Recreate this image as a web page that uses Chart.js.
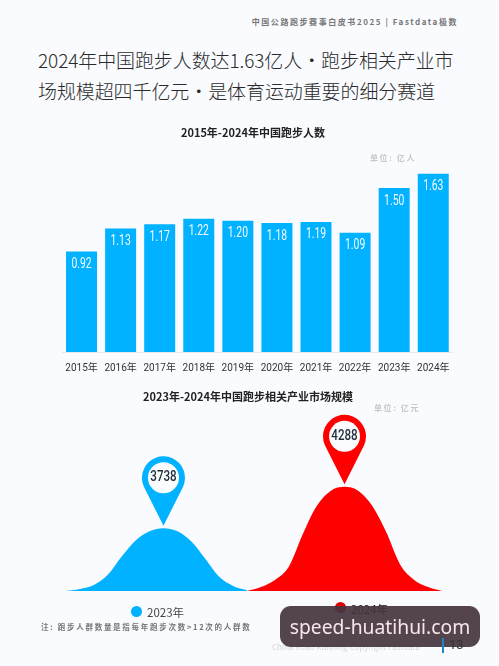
<!DOCTYPE html>
<html lang="zh"><head><meta charset="utf-8">
<script src="https://cdn.jsdelivr.net/npm/chart.js@4"></script>
<style>
html,body{margin:0;padding:0;background:#f9fbfe;}
#page{position:relative;width:499px;height:666px;overflow:hidden;font-family:"Noto Sans CJK SC","Noto Sans",sans-serif;background:#f9fbfe;}
#page>*{position:absolute;white-space:nowrap;}
canvas{position:absolute;left:0;}
#hdr{right:41px;top:16px;font-size:8px;font-weight:700;color:#777;letter-spacing:1.56px;line-height:12px;}
#t1,#t2{left:38px;font-size:19px;color:#2a2a2a;font-weight:300;line-height:26px;letter-spacing:-.1px;}
#t1{top:47px;}#t2{top:78px;}
.sep{display:inline-block;width:19px;text-align:center;}
.unit{font-size:8px;font-weight:700;color:#c8c8c8;line-height:10px;letter-spacing:1.6px;}
.lg{font-size:11.5px;color:#444;line-height:14px;}
.dot{width:11px;height:11px;border-radius:50%;}
#note{left:41px;top:621px;font-size:7.5px;font-weight:700;color:#777;letter-spacing:1.72px;line-height:12px;}
#copy{left:272px;top:641px;font-size:8px;color:#d5d7da;line-height:11px;}
#bar{left:442px;top:638px;width:2px;height:15px;background:#1a85c8;z-index:2;}
#pn{left:449px;top:637px;font-size:13px;color:#333;line-height:15px;font-family:Roboto;z-index:2;}
#wm{left:280px;top:606px;width:200px;height:41px;border-radius:11px;background:rgba(68,52,62,.92);color:#fbe6ee;font-family:"Noto Sans";font-size:19.3px;line-height:41px;text-align:center;}
</style></head><body>
<div id="page">
<div id="hdr">中国公路跑步赛事白皮书2025 | Fastdata极数</div>
<div id="t1">2024年中国跑步人数达1.63亿人<span class="sep">·</span>跑步相关产业市</div>
<div id="t2">场规模超四千亿元<span class="sep">·</span>是体育运动重要的细分赛道</div>
<canvas id="c1" style="top:120px" width="499" height="270"></canvas>
<canvas id="c2" style="top:385px" width="499" height="235"></canvas>
<div class="unit" style="left:370px;top:153px">单位: 亿人</div>
<div class="unit" style="left:374px;top:403px">单位: 亿元</div>
<div class="dot" style="left:131px;top:606px;background:#00b2ff"></div>
<div class="lg" style="left:147px;top:605px">2023年</div>
<div class="dot" style="left:335px;top:602px;background:#e00000"></div>
<div class="lg" style="left:351px;top:602px;color:#111">2024年</div>
<div id="note">注: 跑步人群数量是指每年跑步次数&gt;12次的人群数</div>
<div id="copy">China Road Running Copyright Fastdata</div>
<div id="bar"></div><div id="pn">13</div>
<div id="wm">speed-huatihui.com</div>
</div>
<script>
const years = ['2015年','2016年','2017年','2018年','2019年','2020年','2021年','2022年','2023年','2024年'];
const runners = [0.92,1.13,1.17,1.22,1.20,1.18,1.19,1.09,1.50,1.63];
const curveSteps = ['','','','','','','','','','','','','','','','','','','','','','','','','','','',''];
const curve2023 = [0,2,6,16,34,50,59,62,59,49,32,14,5,0.7,null,null,null,null,null,null,null,null,null,null,null,null,null,null];
const curve2024 = [null,null,null,null,null,null,null,null,null,null,null,null,null,0,4,11,24,56,84,99,103,99,84,58,26,11,4,0];
const marketSize = {2023:3738, 2024:4288};
const BLUE='#00b2ff', RED='#ff0000';
const CJK='"Noto Sans CJK SC"';

const shiftTitle=dx=>({id:'shiftTitle',afterLayout(ch){ch.titleBlock.left+=dx;ch.titleBlock.right+=dx;}});

const barLabels={id:'barLabels',afterDatasetsDraw(ch){
  const {ctx}=ch, m=ch.getDatasetMeta(0);
  ctx.save();ctx.fillStyle='#f7fcff';ctx.font='14px Roboto';
  ctx.textAlign='center';ctx.textBaseline='middle';
  m.data.forEach((b,i)=>{
    ctx.save();ctx.translate(b.x,b.y+13);ctx.scale(.74,1);
    ctx.fillText(runners[i].toFixed(2),0,0);ctx.restore();
  });
  ctx.restore();
}};
new Chart(document.getElementById('c1'),{
  type:'bar',
  data:{labels:years,datasets:[{data:runners,backgroundColor:BLUE,barPercentage:1,categoryPercentage:.793}]},
  plugins:[barLabels,shiftTitle(-4.5)],
  options:{responsive:false,animation:false,
    layout:{padding:{left:62,right:46.2,bottom:14,top:0}},
    plugins:{legend:{display:false},tooltip:{enabled:false},
      title:{display:true,text:'2015年-2024年中国跑步人数',color:'#222',font:{family:CJK,size:11,weight:'700'},padding:{top:6,bottom:27}}},
    scales:{
      y:{display:false,min:0,max:1.7},
      x:{grid:{display:false},border:{color:'#e6e8ea'},
        ticks:{color:'#333',font:{family:'Roboto,'+CJK,size:10},padding:2,maxRotation:0,autoSkip:false}}
    }}
});

const pins={id:'pins',afterDatasetsDraw(ch){
  const {ctx,scales:{x,y}}=ch;
  [[curve2023,BLUE,marketSize[2023]],[curve2024,RED,marketSize[2024]]].forEach(([arr,col,val])=>{
    let k=0;arr.forEach((v,i)=>{if(v!==null&&v>arr[k]||arr[k]===null)k=i;});
    const tx=x.getPixelForValue(k), ty=y.getPixelForValue(arr[k])-2.5;
    const r=21.5, cy=ty-48, a=Math.asin(r/48*0.92);
    ctx.save();ctx.fillStyle=col;
    ctx.beginPath();ctx.moveTo(tx,ty);
    ctx.lineTo(tx+r*Math.cos(a),cy+r*Math.sin(a));
    ctx.arc(tx,cy,r,a,Math.PI-a,true);
    ctx.closePath();ctx.fill();
    ctx.fillStyle='#fbfcfe';ctx.beginPath();ctx.arc(tx,cy,15.5,0,Math.PI*2);ctx.fill();
    ctx.fillStyle='#1f2d3a';ctx.font='500 14px Roboto';
    ctx.textAlign='center';ctx.textBaseline='middle';
    ctx.translate(tx,cy);ctx.scale(.83,1);
    ctx.fillText(String(val),0,0);
    ctx.restore();
  });
}};
new Chart(document.getElementById('c2'),{
  type:'line',
  data:{labels:curveSteps,datasets:[
    {label:'2023年',data:curve2023,borderColor:BLUE,backgroundColor:BLUE,fill:'origin',pointRadius:0,borderWidth:0,cubicInterpolationMode:'monotone'},
    {label:'2024年',data:curve2024,borderColor:RED,backgroundColor:RED,fill:'origin',pointRadius:0,borderWidth:0,cubicInterpolationMode:'monotone'}
  ]},
  plugins:[pins,shiftTitle(-6)],
  options:{responsive:false,animation:false,spanGaps:false,
    layout:{padding:{left:66,right:57,bottom:29,top:0}},
    plugins:{legend:{display:false},tooltip:{enabled:false},
      title:{display:true,text:'2023年-2024年中国跑步相关产业市场规模',color:'#222',font:{family:CJK,size:11,weight:'700'},padding:{top:5,bottom:26}}},
    scales:{y:{display:false,min:0,max:160},x:{display:false}}
  }
});
</script>
</body></html>
